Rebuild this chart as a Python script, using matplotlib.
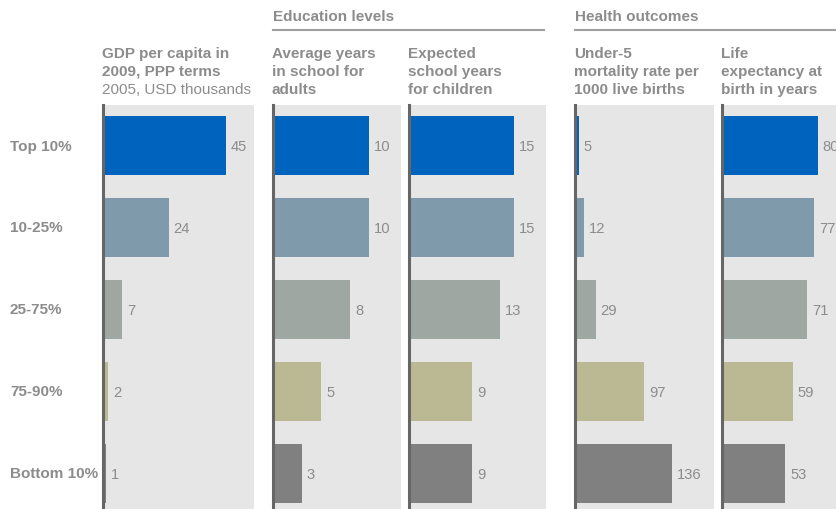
import matplotlib
matplotlib.use("Agg")
import matplotlib.pyplot as plt
from matplotlib.lines import Line2D

plt.rcParams['font.family'] = ['Liberation Sans', 'DejaVu Sans']

W, H = 837, 510

groups = ["Top 10%", "10-25%", "25-75%", "75-90%", "Bottom 10%"]
gdp = [45, 24, 7, 2, 1]
adult_school = [10, 10, 8, 5, 3]
child_school = [15, 15, 13, 9, 9]
under5_mortality = [5, 12, 29, 97, 136]
life_expectancy = [80, 77, 71, 59, 53]

titles = [
    ["GDP per capita in", "2009, PPP terms", "2005, USD thousands"],
    ["Average years", "in school for", "adults"],
    ["Expected", "school years", "for children"],
    ["Under-5", "mortality rate per", "1000 live births"],
    ["Life", "expectancy at", "birth in years"],
]
sections = [("Education levels", 273, 544), ("Health outcomes", 575, 837)]

bar_colors = ["#0064BE", "#7F9AAB", "#9EA7A1", "#BBB994", "#808080"]
text_grey = "#8C8C8C"
bg_grey = "#E6E6E6"
axis_grey = "#666666"

# panel geometry in pixels: left edge, right edge, x-axis maximum
panels = [
    (gdp, 103, 254, 55.3),
    (adult_school, 273, 401, 13.3),
    (child_school, 409, 546, 19.6),
    (under5_mortality, 575, 714, 195),
    (life_expectancy, 722, 837, 96),
]

fig = plt.figure(figsize=(W / 100, H / 100), dpi=100)

top_px = 106
ymin, ymax = -0.494, (H - top_px) / 82 - 0.494

def fx(x):
    return x / W

def fy(y):
    return 1 - y / H

for k, (vals, x0, x1, xmax) in enumerate(panels):
    ax = fig.add_axes([fx(x0), 0, (x1 - x0) / W, (H - top_px) / H])
    ax.set_facecolor(bg_grey)
    ax.barh(range(len(vals)), vals, height=0.72, color=bar_colors, zorder=2)
    ax.set_xlim(0, xmax)
    ax.set_ylim(ymax, ymin)
    for s in ["top", "right", "bottom"]:
        ax.spines[s].set_visible(False)
    ax.spines["left"].set_color(axis_grey)
    ax.spines["left"].set_linewidth(2.2)
    ax.spines["left"].set_zorder(3)
    ax.set_xticks([])
    ax.set_yticks([])
    for i, v in enumerate(vals):
        ax.annotate(str(v), (v, i), xytext=(5, 0), textcoords="offset pixels",
                    ha="left", va="center", fontsize=10.6, color=text_grey,
                    annotation_clip=False, zorder=4)
    # column title
    for j, line in enumerate(titles[k]):
        bold = not (k == 0 and j == 2)
        fig.text(fx(x0 - 1), fy(54 + 18 * j), line, ha="left", va="center",
                 fontsize=11, color=text_grey,
                 fontweight="bold" if bold else "normal")

# row labels
for i, g in enumerate(groups):
    fig.text(fx(10), fy(146.5 + 82 * i), g, ha="left", va="center",
             fontsize=11, color=text_grey, fontweight="bold")

# section headers
for name, xa, xb in sections:
    fig.text(fx(xa), fy(17), name, ha="left", va="center", fontsize=11,
             color=text_grey, fontweight="bold")
    fig.add_artist(Line2D([fx(xa), fx(xb)], [fy(31), fy(31)],
                          color="#A0A0A0", linewidth=1.5,
                          transform=fig.transFigure))

fig.savefig("out.png", dpi=100)
